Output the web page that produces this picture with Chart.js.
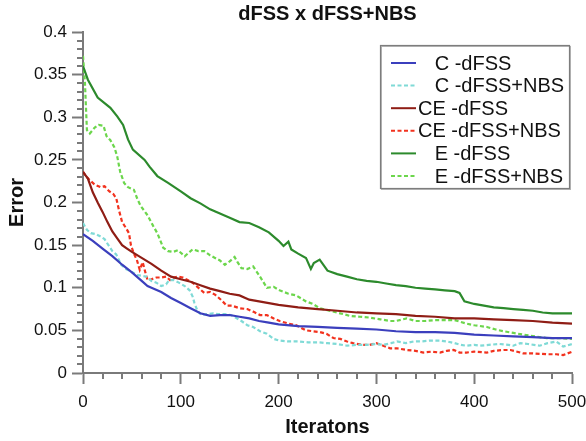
<!DOCTYPE html>
<html>
<head>
<meta charset="utf-8">
<script src="https://cdn.jsdelivr.net/npm/chart.js@4/dist/chart.umd.min.js"></script>
<style>
  html, body { margin: 0; padding: 0; background: #fff; }
  #wrap { width: 586px; height: 441px; }
</style>
</head>
<body>
<div id="wrap"><canvas id="c" width="586" height="441"></canvas></div>
<script>
// ---- data ----
const chartTitle = 'dFSS x dFSS+NBS';
const xTitle = 'Iteratons';
const yTitle = 'Error';
const seriesLabels = ['   C -dFSS', '   C -dFSS+NBS', 'CE -dFSS', 'CE -dFSS+NBS', '   E -dFSS', '   E -dFSS+NBS'];

const C_dFSS_x = [0,10,20,30,40,50,60,66,70,80,90,100,110,120,130,140,150,160,170,180,190,200,220,240,260,280,300,320,340,360,380,400,420,440,460,480,500];
const C_dFSS_y = [0.163,0.155,0.146,0.137,0.127,0.118,0.108,0.102,0.100,0.095,0.088,0.082,0.076,0.070,0.067,0.068,0.068,0.066,0.064,0.061,0.059,0.057,0.055,0.054,0.053,0.052,0.051,0.049,0.048,0.048,0.047,0.045,0.044,0.043,0.042,0.041,0.041];

const C_NBS_x = [0,4,8,13,18,22,26,30,34,39,44,49,55,60,65,70,75,80,85,88,93,98,104,109,112,114,117,121,127,133,138,145,151,156,162,168,174,181,188,195,201,210,220,230,240,250,260,270,280,290,300,307,315,321,330,338,345,355,365,372,380,386,392,400,406,415,426,435,440,447,455,467,475,484,491,500];
const C_NBS_y = [0.176,0.168,0.164,0.163,0.160,0.157,0.150,0.143,0.139,0.127,0.122,0.119,0.115,0.114,0.113,0.108,0.106,0.102,0.104,0.109,0.109,0.106,0.102,0.097,0.090,0.082,0.073,0.068,0.069,0.070,0.069,0.069,0.068,0.065,0.061,0.056,0.054,0.049,0.046,0.040,0.038,0.037,0.037,0.036,0.036,0.035,0.034,0.032,0.033,0.033,0.034,0.033,0.035,0.037,0.035,0.037,0.037,0.038,0.038,0.037,0.035,0.033,0.032,0.033,0.032,0.033,0.034,0.033,0.032,0.035,0.034,0.032,0.035,0.037,0.031,0.034];

const CE_dFSS_x = [0,5,10,15,20,25,30,35,40,45,50,60,70,80,90,100,110,120,130,140,150,160,170,180,190,200,220,240,260,280,300,320,340,360,380,400,420,440,460,480,500];
const CE_dFSS_y = [0.236,0.228,0.212,0.200,0.189,0.177,0.166,0.158,0.150,0.146,0.142,0.135,0.128,0.120,0.113,0.110,0.107,0.103,0.099,0.096,0.093,0.091,0.086,0.084,0.082,0.080,0.077,0.075,0.073,0.071,0.070,0.069,0.067,0.066,0.064,0.064,0.063,0.062,0.061,0.059,0.058];

const CE_NBS_x = [0,3,7,12,18,22,27,31,34,37,40,44,47,49,52,55,58,61,64,66,70,75,80,85,89,93,97,102,107,112,117,124,130,135,141,147,152,160,168,174,181,188,195,201,210,218,228,235,242,249,256,263,270,276,285,293,300,307,314,321,331,340,348,356,365,372,379,385,392,400,413,420,430,437,444,450,460,474,484,491,500];
const CE_NBS_y = [0.236,0.231,0.226,0.221,0.218,0.219,0.213,0.210,0.205,0.190,0.177,0.170,0.164,0.150,0.140,0.133,0.121,0.130,0.117,0.109,0.110,0.112,0.112,0.113,0.109,0.112,0.113,0.112,0.109,0.106,0.101,0.094,0.095,0.092,0.086,0.079,0.079,0.076,0.075,0.072,0.068,0.068,0.064,0.061,0.058,0.056,0.050,0.049,0.048,0.046,0.041,0.040,0.037,0.035,0.033,0.033,0.035,0.032,0.029,0.029,0.027,0.026,0.024,0.025,0.024,0.026,0.027,0.024,0.024,0.025,0.024,0.026,0.027,0.027,0.025,0.023,0.023,0.022,0.022,0.021,0.025];

const E_dFSS_x = [0,5,15,28,35,41,46,51,63,68,76,87,100,110,120,130,140,150,160,170,180,190,200,205,210,213,220,228,233,236,242,250,260,270,280,290,300,310,320,330,340,350,360,370,380,385,390,400,410,420,430,440,450,460,470,480,490,500];
const E_dFSS_y = [0.360,0.344,0.323,0.311,0.301,0.291,0.274,0.262,0.250,0.242,0.231,0.223,0.213,0.205,0.199,0.192,0.187,0.182,0.177,0.176,0.171,0.165,0.155,0.149,0.154,0.145,0.140,0.135,0.122,0.129,0.133,0.120,0.116,0.113,0.110,0.108,0.107,0.105,0.103,0.102,0.100,0.099,0.098,0.097,0.096,0.094,0.084,0.081,0.079,0.077,0.076,0.075,0.074,0.073,0.071,0.070,0.070,0.070];

const E_NBS_x = [0,2,4,7,12,16,21,24,28,32,35,38,42,46,52,56,59,66,72,76,82,87,92,97,104,112,118,124,130,135,140,145,150,155,158,162,168,174,181,188,195,201,210,218,228,235,242,252,263,273,283,293,304,314,320,331,340,350,360,372,380,392,400,413,422,430,440,450,462,474,486,500];
const E_NBS_y = [0.372,0.340,0.285,0.281,0.288,0.291,0.290,0.278,0.273,0.265,0.254,0.236,0.223,0.218,0.215,0.203,0.196,0.185,0.172,0.164,0.147,0.143,0.142,0.144,0.137,0.145,0.143,0.143,0.138,0.135,0.132,0.127,0.131,0.136,0.130,0.123,0.122,0.125,0.113,0.100,0.101,0.097,0.093,0.091,0.084,0.081,0.076,0.073,0.070,0.067,0.066,0.065,0.063,0.061,0.061,0.064,0.061,0.061,0.062,0.062,0.062,0.058,0.056,0.054,0.051,0.049,0.047,0.045,0.043,0.041,0.041,0.040];

const yTickStep = 0.05, yMin = 0, yMax = 0.4;
const xTickStep = 100, xMin = 0, xMax = 500;

// ---- build chart ----
function pts(xs, ys) { return xs.map((x, i) => ({ x: x, y: ys[i] })); }
const FONT = '"Liberation Sans", Arial, Helvetica, sans-serif';
Chart.defaults.font.family = FONT;
Chart.defaults.color = '#111';

const styles = [
  { color: '#3b3fbd', dash: [] },
  { color: '#7fdad6', dash: [4, 2.5] },
  { color: '#8f1d15', dash: [] },
  { color: '#f2321e', dash: [4, 2.5] },
  { color: '#2c8a2c', dash: [] },
  { color: '#6cd64c', dash: [4, 2.5] }
];
const seriesData = [
  pts(C_dFSS_x, C_dFSS_y), pts(C_NBS_x, C_NBS_y),
  pts(CE_dFSS_x, CE_dFSS_y), pts(CE_NBS_x, CE_NBS_y),
  pts(E_dFSS_x, E_dFSS_y), pts(E_NBS_x, E_NBS_y)
];
const datasets = seriesData.map((d, i) => ({
  label: seriesLabels[i],
  data: d,
  borderColor: styles[i].color,
  backgroundColor: styles[i].color,
  borderDash: styles[i].dash,
  borderWidth: 2.2,
  pointRadius: 0,
  tension: 0,
  fill: false
}));

const AXIS = '#7a7a7a';

const minorTicks = {
  id: 'minorTicks',
  afterDraw(chart) {
    const ctx = chart.ctx, a = chart.chartArea;
    const xs = chart.scales.x, ys = chart.scales.y;
    ctx.save();
    ctx.strokeStyle = AXIS;
    ctx.lineWidth = 2;
    ctx.beginPath();
    for (let k = 0; k <= 40; k++) {
      if (k % 5 === 0) continue;
      const py = Math.round(ys.getPixelForValue(k / 100));
      ctx.moveTo(a.left - 6, py); ctx.lineTo(a.left, py);
    }
    for (let k = 0; k <= 500; k += 20) {
      if (k % 100 === 0) continue;
      const px = Math.round(xs.getPixelForValue(k));
      ctx.moveTo(px, a.bottom); ctx.lineTo(px, a.bottom + 6);
    }
    ctx.stroke();
    ctx.restore();
  }
};

const legendBox = {
  id: 'legendBox',
  afterDraw(chart) {
    const ctx = chart.ctx, a = chart.chartArea;
    const w = 189, h = 143;
    const x0 = a.right - 192, y0 = a.top + 13;
    ctx.save();
    ctx.fillStyle = '#fff';
    ctx.fillRect(x0, y0, w, h);
    ctx.strokeStyle = '#b5b5b5';
    ctx.lineWidth = 1;
    ctx.strokeRect(x0 + 1.5, y0 + 1.5, w, h);
    ctx.strokeStyle = '#7d7d7d';
    ctx.lineWidth = 1.2;
    ctx.strokeRect(x0 + 0.5, y0 + 0.5, w, h);
    chart.data.datasets.forEach((ds, i) => {
      const y = y0 + 18 + i * 22.6;
      ctx.beginPath();
      ctx.setLineDash(ds.borderDash || []);
      ctx.strokeStyle = ds.borderColor;
      ctx.lineWidth = 2;
      ctx.moveTo(x0 + 11, y); ctx.lineTo(x0 + 36, y);
      ctx.stroke();
      ctx.setLineDash([]);
      ctx.fillStyle = '#111';
      ctx.font = '20px ' + FONT;
      ctx.textBaseline = 'middle';
      ctx.textAlign = 'left';
      ctx.fillText(ds.label, x0 + 38, y + 1);
    });
    ctx.restore();
  }
};

function fmtTick(v) { return String(parseFloat(Number(v).toFixed(3))); }

new Chart(document.getElementById('c'), {
  type: 'line',
  data: { datasets: datasets },
  options: {
    responsive: false,
    animation: false,
    layout: { padding: { left: 0, right: 14, top: 0, bottom: 0 } },
    plugins: {
      legend: { display: false },
      tooltip: { enabled: false },
      title: {
        display: true,
        text: chartTitle,
        fullSize: false,
        color: '#111',
        font: { size: 20, weight: 'bold', family: FONT },
        padding: { top: 2, bottom: 6 }
      }
    },
    scales: {
      x: {
        type: 'linear',
        min: xMin, max: xMax,
        afterFit(s) { s.height = 68; s.paddingLeft = 0; s.paddingRight = 0; },
        ticks: { stepSize: xTickStep, padding: 8, color: '#111', font: { size: 17 }, maxRotation: 0, callback: fmtTick },
        grid: { drawOnChartArea: false, drawTicks: true, tickLength: 11, tickColor: AXIS, tickWidth: 2 },
        border: { display: true, color: AXIS, width: 2 },
        title: { display: true, text: xTitle, color: '#111', font: { size: 20, weight: 'bold' }, padding: { top: 0, bottom: 2 } }
      },
      y: {
        type: 'linear',
        min: yMin, max: yMax,
        afterFit(s) { s.width = 83; s.paddingTop = 0; s.paddingBottom = 0; },
        ticks: { stepSize: yTickStep, padding: 5, color: '#111', font: { size: 17 }, callback: fmtTick },
        grid: { drawOnChartArea: false, drawTicks: true, tickLength: 11, tickColor: AXIS, tickWidth: 2 },
        border: { display: true, color: AXIS, width: 2 },
        title: { display: true, text: yTitle, color: '#111', font: { size: 20, weight: 'bold' }, padding: { top: 5.5, bottom: 0 } }
      }
    }
  },
  plugins: [minorTicks, legendBox]
});
</script>
</body>
</html>
